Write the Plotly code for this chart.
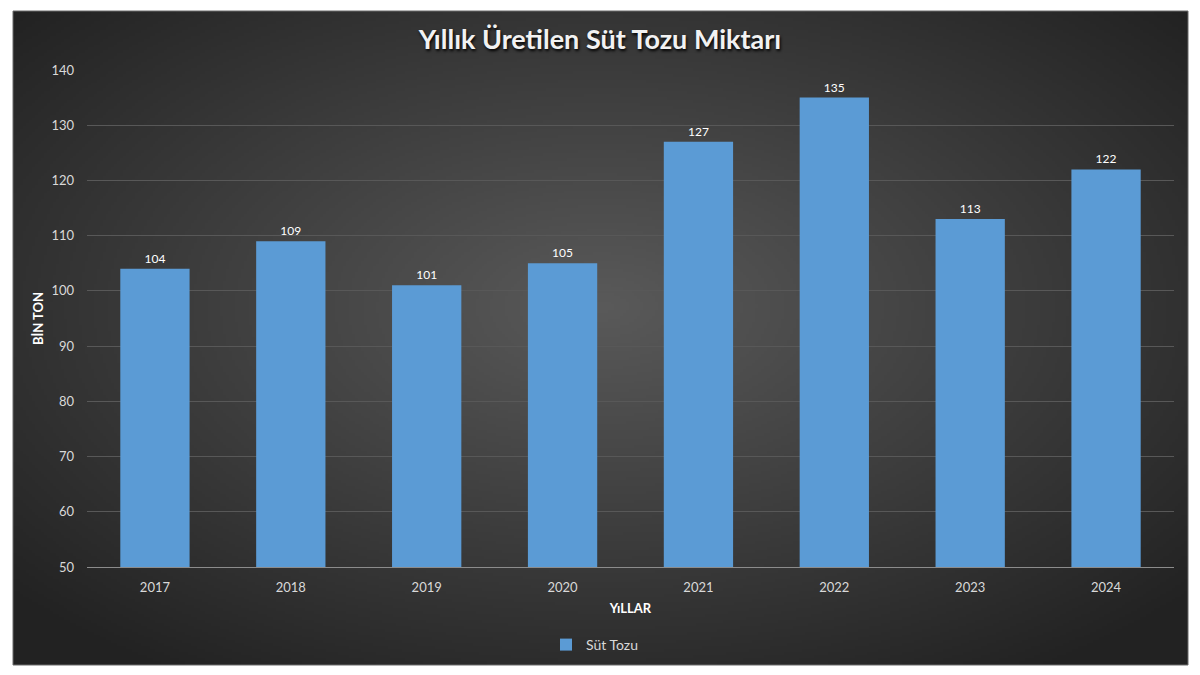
import base64, struct, zlib
import numpy as np
import plotly.graph_objects as go

years = ["2017", "2018", "2019", "2020", "2021", "2022", "2023", "2024"]
values = [104, 109, 101, 105, 127, 135, 113, 122]
series_name = "Süt Tozu"
title_text = "Yıllık Üretilen Süt Tozu Miktarı"
y_title = "BİN TON"
x_title = "YıLLAR"
y_ticks = [50, 60, 70, 80, 90, 100, 110, 120, 130, 140]


def gradient_png(w, h):
    yy, xx = np.mgrid[0:h, 0:w].astype(float)
    dx = (xx - w * 0.5) / (w * 0.5)
    dy = (yy - h * 0.45) / (h * 0.5)
    d = np.clip(np.sqrt(dx ** 2 + dy ** 2) / 1.35, 0, 1)
    c = 0x5a + (0x22 - 0x5a) * d
    img = np.clip(c, 0, 255).astype(np.uint8)
    rgb = np.stack([img, img, img], axis=-1)
    raw = b"".join(b"\x00" + rgb[i].tobytes() for i in range(h))

    def chunk(tag, data):
        ch = tag + data
        return struct.pack(">I", len(data)) + ch + struct.pack(">I", zlib.crc32(ch) & 0xFFFFFFFF)

    png = b"\x89PNG\r\n\x1a\n" + chunk(b"IHDR", struct.pack(">IIBBBBB", w, h, 8, 2, 0, 0, 0))
    png += chunk(b"IDAT", zlib.compress(raw, 9)) + chunk(b"IEND", b"")
    return "data:image/png;base64," + base64.b64encode(png).decode()


# plot area in pixels
L, R, T, B = 87, 1174, 70, 567
W, H = R - L, B - T
bg_x0, bg_x1, bg_y0, bg_y1 = 13, 1188, 11, 665

fig = go.Figure()
fig.add_trace(go.Bar(
    x=years, y=values, name=series_name,
    marker=dict(color="#5b9bd5", line=dict(width=0)),
    text=[str(v) for v in values], textposition="outside",
    textfont=dict(color="#ffffff", size=12, family="Lato"),
    cliponaxis=False,
))

fig.update_layout(
    width=1200, height=675,
    margin=dict(l=L, r=1200 - R, t=T, b=675 - B),
    paper_bgcolor="#ffffff",
    plot_bgcolor="rgba(0,0,0,0)",
    bargap=0.49,
    title=dict(text="<b>" + title_text + "</b>", x=0.5, xanchor="center",
               y=1 - 40 / 675, yanchor="middle",
               font=dict(family="Lato", size=27, color="#f2f2f2",
                         shadow="1px 2px 3px #000000")),
    font=dict(family="Lato", color="#d9d9d9", size=13),
    showlegend=True,
    legend=dict(orientation="h", x=0.5 - 36 / W, xanchor="center", y=-(645 - B) / H,
                yanchor="middle", itemwidth=30,
                font=dict(color="#d9d9d9", size=14, family="Lato"),
                bgcolor="rgba(0,0,0,0)"),
    xaxis=dict(showgrid=False, showline=True, linecolor="#8c8c8c", linewidth=1,
               ticks="", ticklabelstandoff=8, tickfont=dict(color="#d9d9d9", size=13),
               title=dict(text="<b>" + x_title + "</b>", standoff=10,
                          font=dict(color="#ffffff", size=13))),
    yaxis=dict(range=[50, 140], tickvals=y_ticks, showgrid=True, gridcolor="#585858",
               gridwidth=1, zeroline=False, showline=False, ticks="",
               ticklabelstandoff=12,
               tickfont=dict(color="#d9d9d9", size=13),
               title=dict(text="<b>" + y_title + "</b>", standoff=4,
                          font=dict(color="#ffffff", size=13))),
    images=[dict(source=gradient_png(400, 224), xref="paper", yref="paper",
                 x=(bg_x0 - L) / W, y=(B - bg_y0) / H,
                 sizex=(bg_x1 - bg_x0) / W, sizey=(bg_y1 - bg_y0) / H,
                 xanchor="left", yanchor="top", sizing="stretch", layer="below")],
    shapes=[dict(type="rect", xref="paper", yref="paper",
                 x0=(bg_x0 - L) / W, x1=(bg_x1 - L) / W,
                 y0=(B - bg_y1) / H, y1=(B - bg_y0) / H,
                 line=dict(color="#6a6a6a", width=1), layer="below")],
)

fig.write_html("out.html", config={"displayModeBar": False},
               post_script="document.body.style.margin='0';document.body.style.padding='0';")
